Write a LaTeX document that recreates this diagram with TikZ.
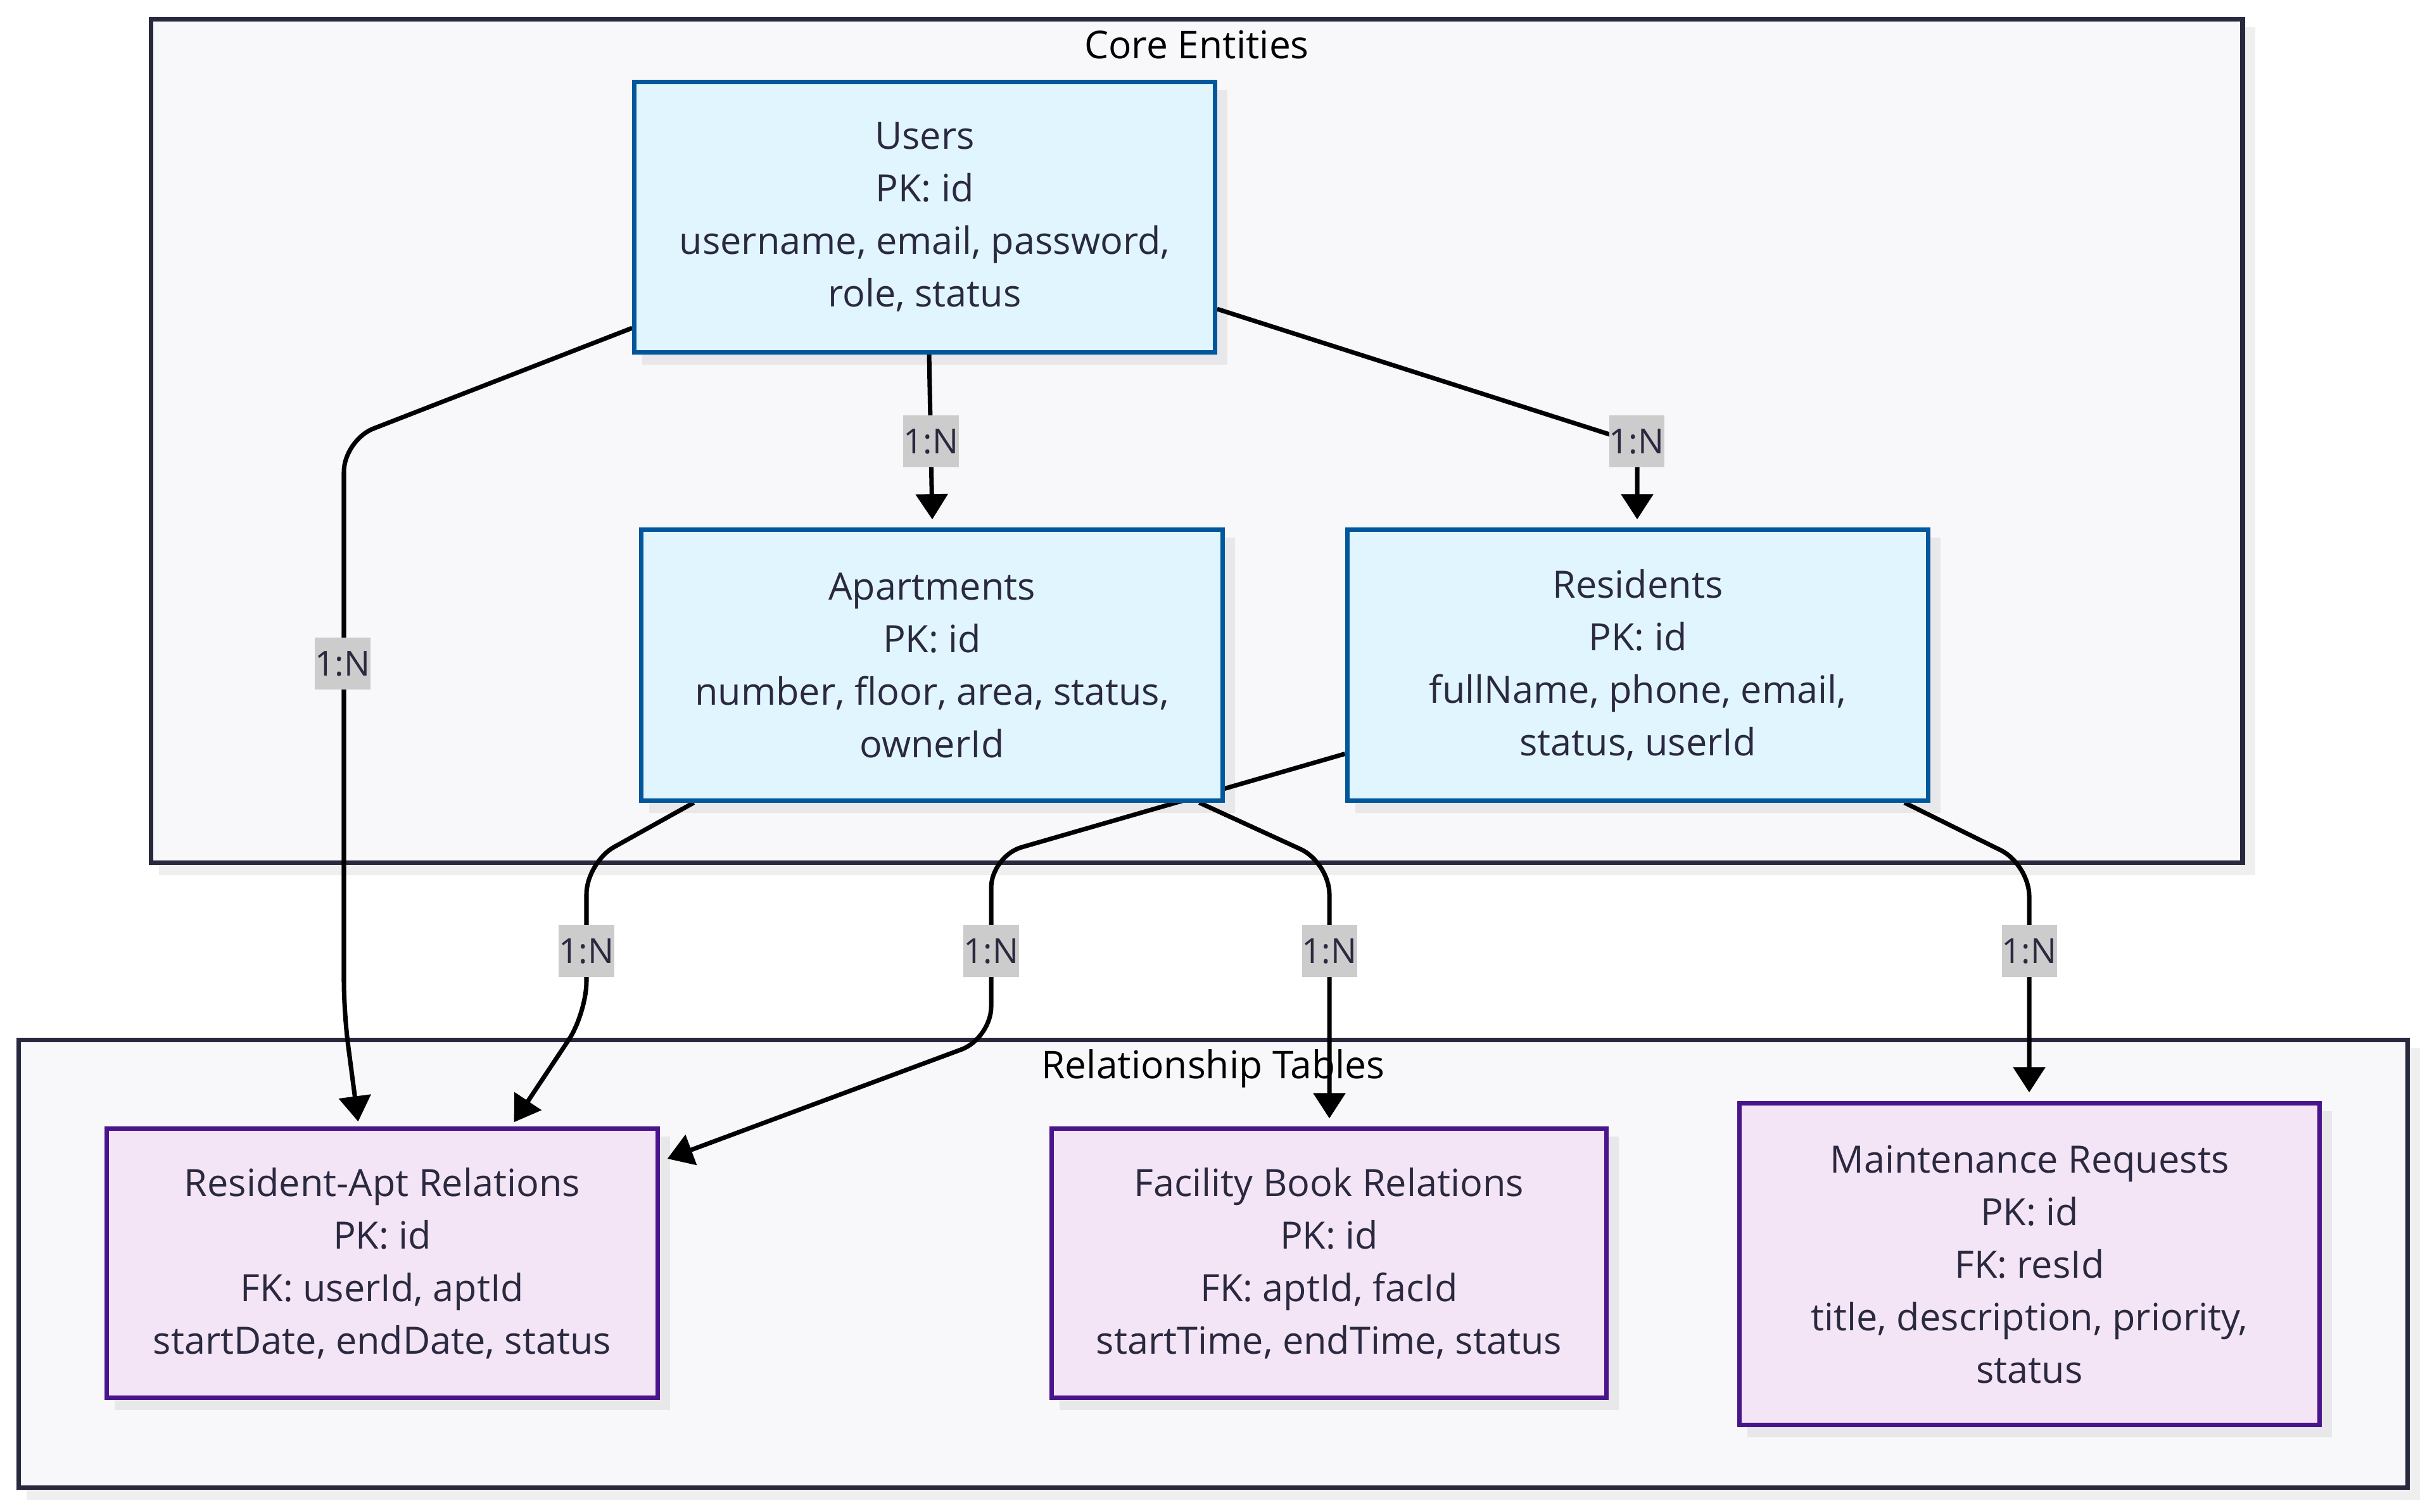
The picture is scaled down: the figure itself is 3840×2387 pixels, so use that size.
\documentclass[tikz,border=0pt]{standalone}
\usepackage{fontspec}
\setmainfont{Open Sans}
\usetikzlibrary{arrows.meta,calc}
\definecolor{clfill}{HTML}{F8F8FA}
\definecolor{clline}{HTML}{28283E}
\definecolor{clshadow}{HTML}{EFEFEF}
\definecolor{ndshadow}{HTML}{E8E8EB}
\definecolor{entfill}{HTML}{E1F5FE}
\definecolor{entline}{HTML}{01579B}
\definecolor{relfill}{HTML}{F3E5F5}
\definecolor{relline}{HTML}{4A148C}
\definecolor{txt}{HTML}{2A2940}
\definecolor{lblfill}{HTML}{CCCCCC}
\pgfdeclarelayer{cshade}
\pgfdeclarelayer{back}
\pgfdeclarelayer{shade}
\pgfdeclarelayer{wires}
\pgfsetlayers{cshade,back,shade,wires,main}
\begin{document}
\begin{tikzpicture}[x=0.01cm,y=-0.01cm,
  cluster/.style={draw=clline,fill=clfill,line width=2pt,inner sep=0pt},
  ctitle/.style={font=\fontsize{17.2}{23.6}\selectfont,text=black,anchor=base,inner sep=0pt},
  entity/.style={draw=entline,fill=entfill,line width=2pt,align=center,text=txt,
    font=\fontsize{16.9}{23.6}\selectfont,minimum width=9.17cm,minimum height=4.27cm,inner sep=0pt},
  reltab/.style={entity,draw=relline,fill=relfill},
  lbl/.style={fill=lblfill,text=txt,font=\fontsize{15.5}{17}\selectfont,
    minimum width=0.87cm,minimum height=0.82cm,inner sep=0pt},
  wire/.style={draw=black,line width=2pt,rounded corners=0.5cm,
    -{Triangle[length=11.4pt,width=14.2pt]}},
]
\useasboundingbox (0,0) rectangle (3840,2387);

\begin{pgfonlayer}{back}
  \node[cluster,minimum width=33.01cm,minimum height=13.31cm] (core) at (1889.5,696.5) {};
  \node[cluster,minimum width=37.69cm,minimum height=7.06cm] (rel) at (1915.5,1996) {};
  \node[ctitle] (coret) at (1889.5,92) {Core Entities};
  \node[ctitle] (relt) at (1915.5,1703) {Relationship Tables};
\end{pgfonlayer}
\begin{pgfonlayer}{cshade}
  \foreach \n in {core,rel}
    \fill[clshadow] ($(\n.south west)+(16,16)$) rectangle ($(\n.north east)+(16,16)$);
\end{pgfonlayer}

\node[entity,minimum width=9.16cm,minimum height=4.26cm] (users) at (1460,343)
  {Users\\PK: id\\username, email, password,\\role, status};
\node[entity] (apts) at (1471.5,1050.5)
  {Apartments\\PK: id\\number, floor, area, status,\\ownerId};
\node[entity] (res) at (2586,1050.5)
  {Residents\\PK: id\\fullName, phone, email,\\status, userId};
\node[reltab,minimum width=8.69cm,minimum height=4.24cm] (ra) at (603.5,1995)
  {Resident-Apt Relations\\PK: id\\FK: userId, aptId\\startDate, endDate, status};
\node[reltab,minimum width=8.75cm,minimum height=4.24cm] (fb) at (2098.5,1995)
  {Facility Book Relations\\PK: id\\FK: aptId, facId\\startTime, endTime, status};
\node[reltab,minimum width=9.15cm,minimum height=5.07cm] (mr) at (3204.5,1996.5)
  {Maintenance Requests\\PK: id\\FK: resId\\title, description, priority,\\status};

\begin{pgfonlayer}{shade}
  \foreach \n in {users,apts,res,ra,fb,mr}
    \fill[ndshadow] ($(\n.south west)+(16,16)$) rectangle ($(\n.north east)+(16,16)$);
\end{pgfonlayer}

\begin{pgfonlayer}{wires}
  \draw[wire] ($(users.west)+(0,175)$) -- (543,695) -- (543,1600) -- ($(ra.north)+(-38,-8)$);
  \draw[wire] ($(users.south)+(7,0)$) -- ($(apts.north)+(0.5,-13)$);
  \draw[wire,rounded corners=0.3cm] ($(users.east)+(0,145)$) -- (2585,700) -- ($(res.north)+(-1,-13)$);
  \draw[wire] ($(apts.south)+(-376,0)$) -- (926,1362) -- (926,1600) -- ($(ra.north)+(208,-7)$);
  \draw[wire] ($(res.west)+(0,140)$) -- (1565,1352) -- (1565,1640) -- ($(ra.east)+(12,-165)$);
  \draw[wire] ($(apts.south)+(422,0)$) -- (2099,1362) -- ($(fb.north)+(0.5,-13)$);
  \draw[wire] ($(res.south)+(421,0)$) -- (3204,1365) -- ($(mr.north)+(-0.5,-14)$);
\end{pgfonlayer}

\node[lbl] (l1) at (541,1048) {1:N};
\node[lbl] (l2) at (1470,697) {1:N};
\node[lbl] (l3) at (2584,697) {1:N};
\node[lbl] (l4) at (926,1502) {1:N};
\node[lbl] (l5) at (1565,1502) {1:N};
\node[lbl] (l6) at (2099,1502) {1:N};
\node[lbl] (l7) at (3204,1502) {1:N};
\end{tikzpicture}
\end{document}
